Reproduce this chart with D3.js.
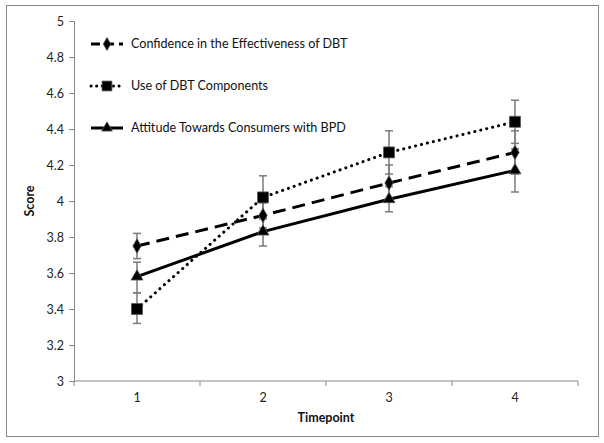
<!DOCTYPE html>
<html><head><meta charset="utf-8">
<script src="https://cdn.jsdelivr.net/npm/d3@7/dist/d3.min.js"></script>
<style>body{margin:0;background:#fff}svg{display:block}</style>
</head><body>
<script>
const categories = ["1","2","3","4"];
const yTicks = [3,3.2,3.4,3.6,3.8,4,4.2,4.4,4.6,4.8,5];
const seriesNames = ["Confidence in the Effectiveness of DBT","Use of DBT Components","Attitude Towards Consumers with BPD"];
const confidence = [3.75,3.92,4.10,4.27];
const confidenceLow = [3.68,3.85,4.00,4.15];
const confidenceHigh = [3.82,3.99,4.20,4.39];
const useDBT = [3.40,4.02,4.27,4.44];
const useLow = [3.32,3.90,4.15,4.32];
const useHigh = [3.49,4.14,4.39,4.56];
const attitude = [3.58,3.83,4.01,4.17];
const attitudeLow = [3.49,3.75,3.94,4.05];
const attitudeHigh = [3.66,3.91,4.08,4.29];

const W=604,H=443;
const svg=d3.select("body").append("svg").attr("width",W).attr("height",H);
svg.append("rect").attr("x",6.5).attr("y",5.5).attr("width",592).attr("height",431)
  .attr("fill","#fff").attr("stroke","#8a8a8a").attr("stroke-width",1);

const x=d3.scaleBand().domain(categories).range([74,578]);
const y=d3.scaleLinear().domain([3,5]).range([381,21]);
const font="Lato, 'Open Sans', sans-serif";

// axes
const yAxis=svg.append("g").attr("transform","translate(74,0)")
  .call(d3.axisLeft(y).tickValues(yTicks).tickSize(5).tickPadding(5).tickFormat(d=>d3.format("")(+d.toFixed(1))));
yAxis.select(".domain").attr("stroke","#888");
yAxis.selectAll(".tick line").attr("stroke","#888");
yAxis.selectAll("text").attr("font-family",font).attr("font-size",12.5).attr("fill","#222");

const xAxis=svg.append("g").attr("transform","translate(0,381)")
  .call(d3.axisBottom(x).tickSize(0).tickPadding(12));
xAxis.select(".domain").attr("stroke","#888").attr("d","M74,0H578");
xAxis.selectAll("text").attr("font-family",font).attr("font-size",12.5).attr("fill","#222");
// band boundary ticks
const bounds=categories.map(c=>x(c)).concat([x.range()[1]]);
xAxis.selectAll(".bt").data(bounds).enter().append("line")
  .attr("x1",d=>d).attr("x2",d=>d).attr("y1",0).attr("y2",5).attr("stroke","#888");

svg.append("text").attr("x",326).attr("y",422).attr("text-anchor","middle")
  .attr("font-family",font).attr("font-weight","bold").attr("font-size",12.5).attr("fill","#111").text("Timepoint");
svg.append("text").attr("transform","translate(34,201) rotate(-90)").attr("text-anchor","middle")
  .attr("font-family",font).attr("font-weight","bold").attr("font-size",12.5).attr("fill","#111").text("Score");

const cx=c=>x(c)+x.bandwidth()/2;
const series=[
  {name:seriesNames[0],vals:confidence,lo:confidenceLow,hi:confidenceHigh,dash:"13,7",cap:"butt",sym:d3.symbolDiamond,size:60},
  {name:seriesNames[1],vals:useDBT,lo:useLow,hi:useHigh,dash:"0.1,6",cap:"round",sym:d3.symbolSquare,size:120},
  {name:seriesNames[2],vals:attitude,lo:attitudeLow,hi:attitudeHigh,dash:null,cap:"butt",sym:d3.symbolTriangle,size:62}
];

// error bars
series.forEach(s=>{
  const g=svg.append("g").attr("stroke","#7a7a7a").attr("stroke-width",1.5);
  categories.forEach((c,i)=>{
    const X=cx(c);
    g.append("line").attr("x1",X).attr("x2",X).attr("y1",y(s.lo[i])).attr("y2",y(s.hi[i]));
    [s.lo[i],s.hi[i]].forEach(v=>g.append("line").attr("x1",X-4).attr("x2",X+4).attr("y1",y(v)).attr("y2",y(v)));
  });
});

const line=d3.line().x((d,i)=>cx(categories[i])).y(d=>y(d));
series.forEach(s=>{
  svg.append("path").datum(s.vals).attr("d",line).attr("fill","none").attr("stroke","#000")
    .attr("stroke-width",3).attr("stroke-dasharray",s.dash).attr("stroke-linecap",s.cap);
});
series.forEach(s=>{
  svg.selectAll(null).data(s.vals).enter().append("path")
    .attr("d",d3.symbol().type(s.sym).size(s.size))
    .attr("transform",(d,i)=>`translate(${cx(categories[i])},${y(d)})`)
    .attr("fill","#000").attr("stroke","#555").attr("stroke-width",0.8);
});

// legend
const legY=[44,86,128];
series.forEach((s,i)=>{
  const g=svg.append("g");
  g.append("line").attr("x1",91).attr("x2",123).attr("y1",legY[i]).attr("y2",legY[i])
    .attr("stroke","#000").attr("stroke-width",3).attr("stroke-dasharray",s.dash?(i===0?"9,5":"0.1,5.5"):null)
    .attr("stroke-linecap",s.cap);
  g.append("path").attr("d",d3.symbol().type(s.sym).size(s.size*0.8)).attr("transform",`translate(107,${legY[i]})`)
    .attr("fill","#000").attr("stroke","#555").attr("stroke-width",0.8);
  g.append("text").attr("x",131).attr("y",legY[i]).attr("dy","0.35em").attr("font-family",font)
    .attr("font-size",12.6).attr("fill","#111").text(s.name);
});
</script>
</body></html>
